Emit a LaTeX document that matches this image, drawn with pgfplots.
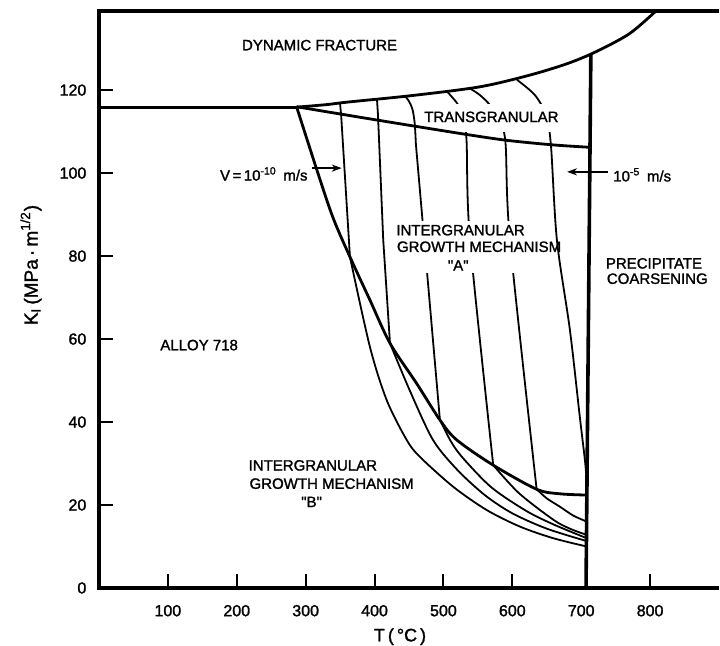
\documentclass[border=0pt]{standalone}
\usepackage{fontspec}
\setmainfont{Liberation Sans}[UprightFeatures={FakeBold=1.5}]
\usepackage{pgfplots}
\pgfplotsset{compat=1.18}
\usetikzlibrary{arrows.meta}
\newcommand\lab{\fontsize{7.5}{9}\selectfont}
\newcommand\q{\textquotedbl}
\begin{document}
\begin{tikzpicture}
\useasboundingbox (-49.5pt,-29pt) rectangle (310.5pt,294pt);
\begin{axis}[
  scale only axis, width=310pt, height=288.35pt,
  xmin=0, xmax=900, ymin=0, ymax=139,
  clip=false,
  axis line style={draw=none},
  xtick={100,200,300,400,500,600,800},
  extra x ticks={700},
  extra x tick style={major tick length=0pt},
  ytick={0,20,...,120},
  xtick pos=left, ytick pos=left,
  tick align=inside,
  major tick length=7pt,
  tick style={black, line width=1pt},
  /pgf/number format/assume math mode=true,
  ticklabel style={font=\fontsize{8}{9.6}\selectfont},
  xticklabel style={yshift=-5pt},
  yticklabel style={xshift=-2.8pt},
  xlabel={T\,(\,°C\,)},
  xlabel style={at={(axis description cs:0.4855,-0.0844)}, anchor=center, font=\fontsize{9}{10}\selectfont},
  ylabel={K\textsubscript{I}\,(MPa\,·\,m\textsuperscript{1/2})},
  ylabel style={at={(axis description cs:-0.1097,0.56)}, anchor=center, font=\fontsize{9.5}{11}\selectfont},
  thk/.style={black, line width=1.4pt},
  thn/.style={black, line width=0.9pt},
]
% axis frame (left, bottom, top)
\draw[line width=2.2pt] (rel axis cs:1,1) -- (rel axis cs:0,1) -- (rel axis cs:0,0) -- (rel axis cs:1,0);

% ---- velocity contours (thin) ----
% C1  V = 1e-10 m/s
\addplot[thn, sharp plot] coordinates {(349.8,117.0)(351.5,114)(364.3,79.8)};
\addplot[thn, smooth] coordinates {(364.3,79.8)(393.3,58.1)(417.6,45.3)(446.6,35.7)(465.9,31.6)(514.2,24.4)(562.7,18.8)(611,14.8)(659.4,12.0)(708,10.0)};
% C2
\addplot[thn, sharp plot] coordinates {(403.5,117.9)(405,114)(412.6,83.9)(422.4,59.0)};
\addplot[thn, smooth] coordinates {(422.4,59.0)(451.4,47.5)(484.8,35.7)(520,28.5)(560,22.4)(600,18.0)(650,14.3)(708,11.3)};
% C3
\addplot[thn, smooth] coordinates {(444.1,118.6)(450,117.3)(455,115.4)(458.3,112)(460,107)};
\addplot[thn, sharp plot] coordinates {(460,107)(494.9,40.5)};
\addplot[thn, smooth] coordinates {(494.9,40.5)(512,35)(530,31)(570,24.2)(620,18.6)(660,15.3)(708,12.0)};
% C4
\addplot[thn, smooth] coordinates {(504.5,119.8)(514.2,118.0)(521.5,116.4)(528,113.5)(533.5,108)(538.5,83.9)(572.3,29.6)};
\addplot[thn, smooth] coordinates {(572.3,29.6)(610,22.8)(660,16.4)(685,14.2)(708,12.8)};
% C5
\addplot[thn, smooth] coordinates {(538.5,120.4)(553,118.8)(567.5,116.4)(580,113)(590,107.5)(596.5,83.9)(635.3,23.8)};
\addplot[thn, smooth] coordinates {(635.3,23.8)(650,21.6)(669,19.6)(688,17.5)(708,16.0)};
% C6  V = 1e-5 m/s
\addplot[thn, smooth] coordinates {(606.7,122.5)(632.8,118.8)(648.8,114.0)(656,106.8)(664.7,83.9)(683.6,62.2)(698,41.2)(705.4,30.8)(708.4,25)};

% ---- white covers where labels interrupt the lines ----
\node[fill=white, inner sep=0, minimum width=79.75pt, minimum height=26pt, anchor=north west] at (axis cs:428.2,88.45) {};
\node[fill=white, inner sep=0, minimum width=68pt, minimum height=14pt, anchor=north west] at (axis cs:468.8,116.65) {};

% ---- boundaries (thick) ----
\addplot[thk, sharp plot] coordinates {(0,115.9)(287,115.9)};
\addplot[thk, smooth] coordinates {(287,115.9)(330,116.5)(360,117.1)(455,118.7)(553,120.8)(625,123.6)(680,126.4)(722,129.3)(770,133.6)(808,139)};
\addplot[thk, smooth] coordinates {(286.8,116)(370,113.7)(455,111.4)(534,109.3)(592,107.9)(659,106.8)(714,106.2)};
\addplot[black, line width=1.8pt, sharp plot] coordinates {(714,128.7)(707,0)};
\addplot[thk, smooth] coordinates {(286.8,116.0)(316.4,100.7)(339.6,89.3)(364.3,79.8)(393.3,69.4)(422.4,59.0)(461.1,49.3)(494.9,40.5)(519.2,35.7)(572.3,29.6)(635.3,23.8)(669.1,22.7)(708,22.4)};

% ---- arrows ----
\addplot[black, line width=0.7pt, -{Stealth[length=5pt,width=3.6pt]}] coordinates {(309,101.2)(352.3,101.2)};
\addplot[black, line width=0.7pt, -{Stealth[length=5pt,width=3.6pt]}] coordinates {(738.7,100.3)(679.5,100.3)};

% ---- labels ----
\node[inner sep=0, anchor=base west, font=\lab] at (axis cs:207.1,129.6) {DYNAMIC FRACTURE};
\node[inner sep=0, anchor=base west, font=\lab] at (axis cs:471.7,112.3) {TRANSGRANULAR};
\node[inner sep=0, anchor=base east, font=\lab] at (axis cs:303.3,98.2) {V\,=\,10\textsuperscript{-10}\, m/s};
\node[inner sep=0, anchor=base west, font=\lab] at (axis cs:746,98.0) {10\textsuperscript{-5}\, m/s};
\node[inner sep=0, anchor=base west, font=\lab] at (axis cs:431.1,85.0) {INTERGRANULAR};
\node[inner sep=0, anchor=base west, font=\lab] at (axis cs:432,81.0) {GROWTH MECHANISM};
\node[inner sep=0, anchor=base, font=\lab] at (axis cs:521.5,76.5) {\q A\q};
\node[inner sep=0, anchor=base west, font=\lab] at (axis cs:735.3,77.0) {PRECIPITATE};
\node[inner sep=0, anchor=base west, font=\lab] at (axis cs:736.7,73.3) {COARSENING};
\node[inner sep=0, anchor=base west, font=\lab] at (axis cs:88.5,57.3) {ALLOY 718};
\node[inner sep=0, anchor=base west, font=\lab] at (axis cs:216.7,28.3) {INTERGRANULAR};
\node[inner sep=0, anchor=base west, font=\lab] at (axis cs:218,23.9) {GROWTH MECHANISM};
\node[inner sep=0, anchor=base, font=\lab] at (axis cs:308.6,19.5) {\q B\q};
\end{axis}
\end{tikzpicture}
\end{document}
